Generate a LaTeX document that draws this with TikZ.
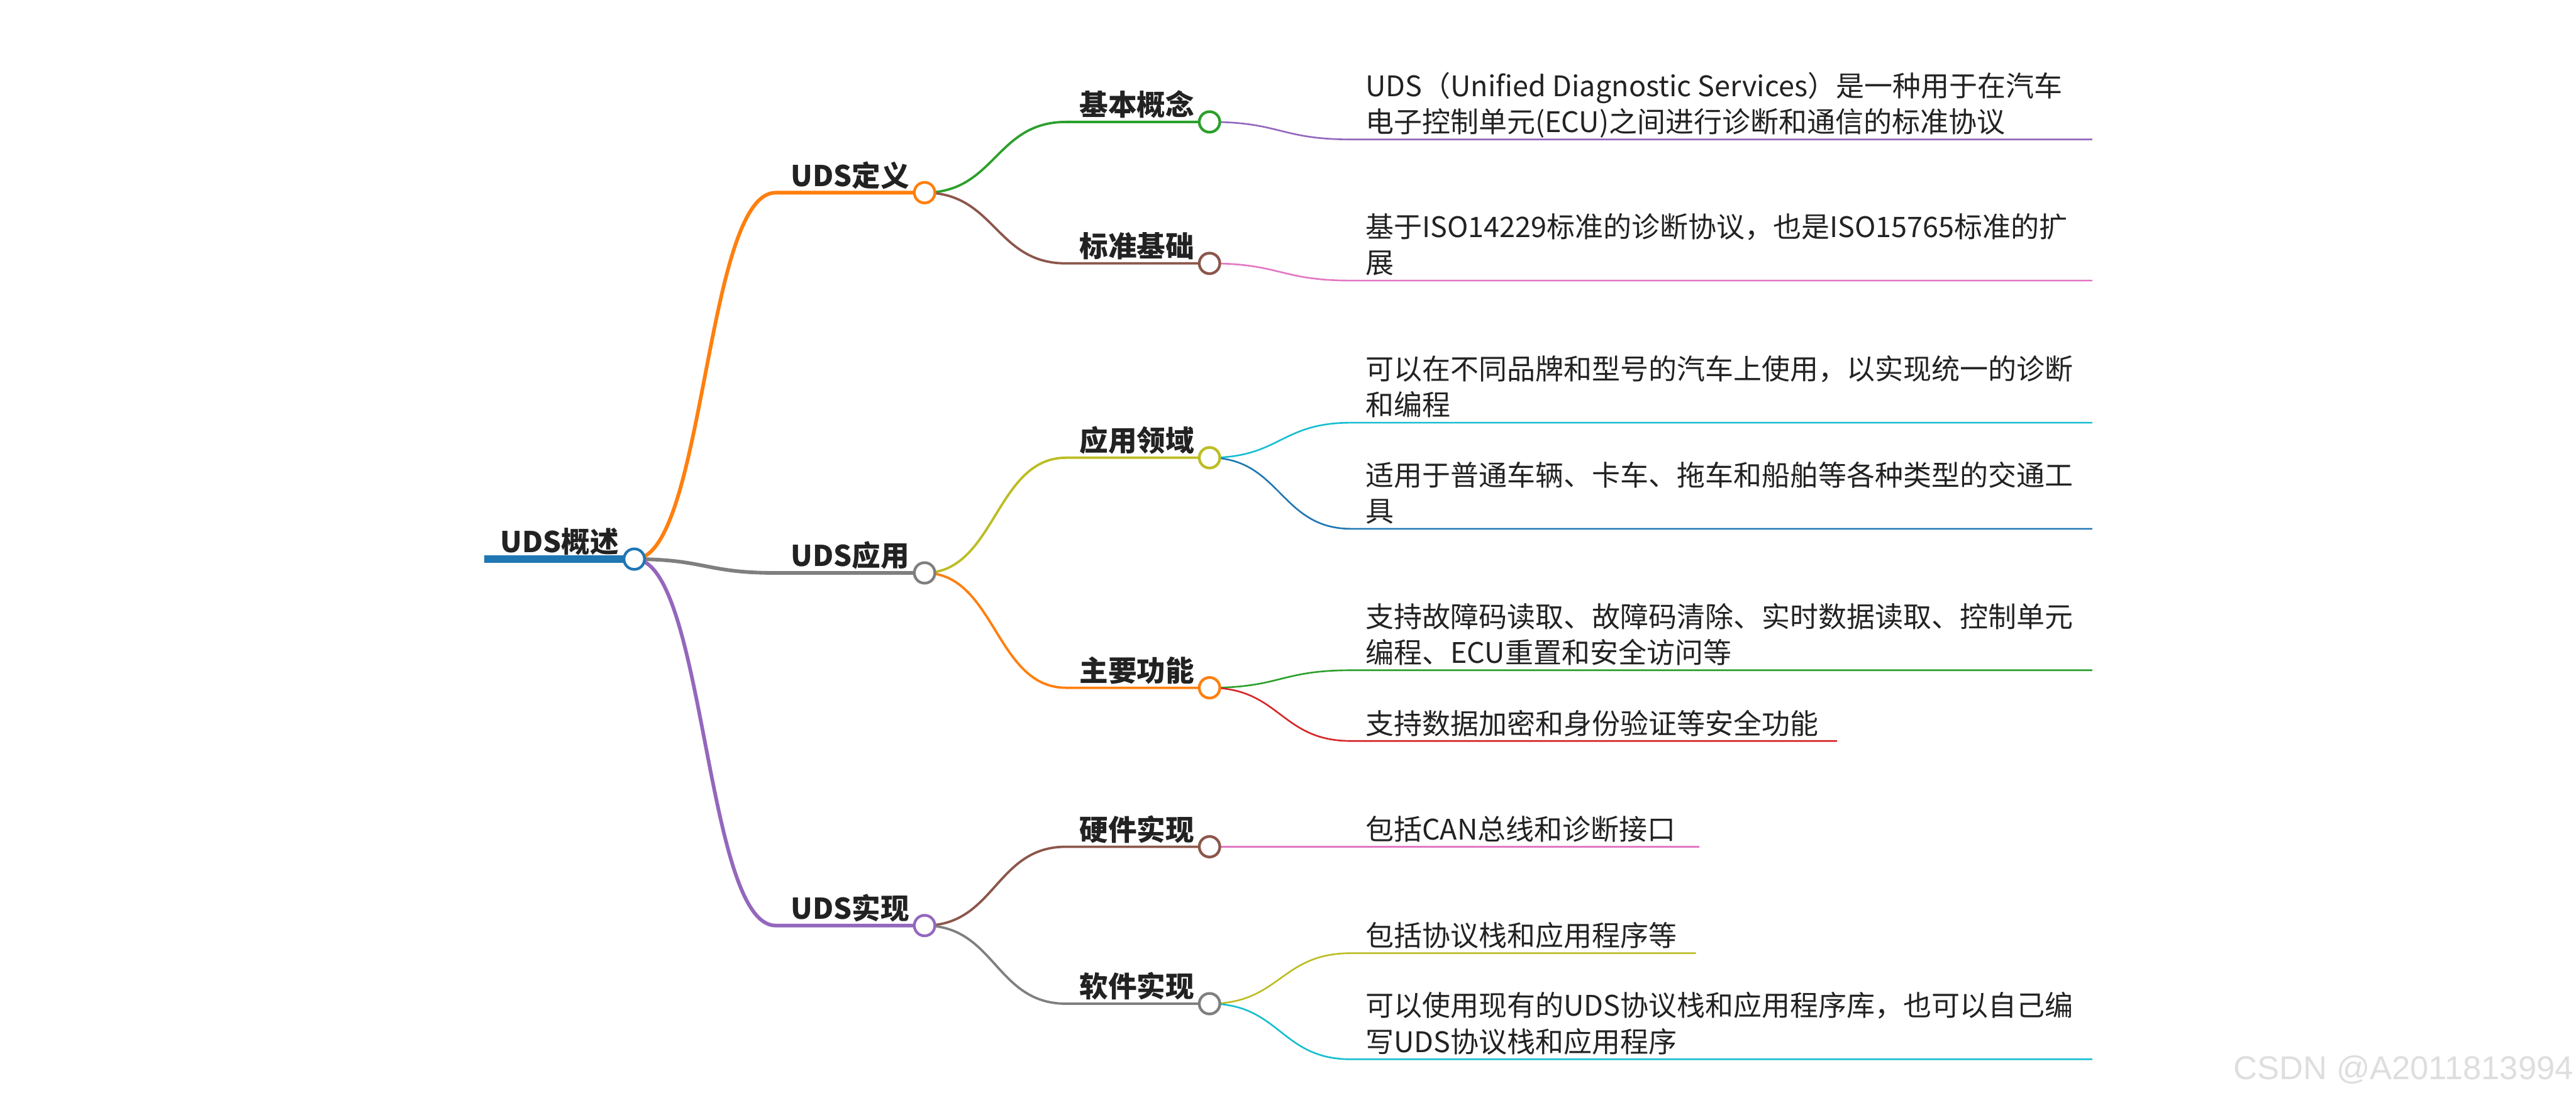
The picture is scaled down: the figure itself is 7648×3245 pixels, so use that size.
\documentclass[tikz,border=0pt]{standalone}
\usepackage{fontspec}
\setmainfont{Noto Sans CJK SC}
\newfontfamily\wmfont{Liberation Sans}
\usetikzlibrary{backgrounds}
\definecolor{tabblue}{HTML}{1F77B4}
\definecolor{taborange}{HTML}{FF7F0E}
\definecolor{tabgreen}{HTML}{2CA02C}
\definecolor{tabred}{HTML}{D62728}
\definecolor{tabpurple}{HTML}{9467BD}
\definecolor{tabbrown}{HTML}{8C564B}
\definecolor{tabpink}{HTML}{E377C2}
\definecolor{tabgray}{HTML}{7F7F7F}
\definecolor{tabolive}{HTML}{BCBD22}
\definecolor{tabcyan}{HTML}{17BECF}
\definecolor{ink}{HTML}{222222}

\begin{document}
\begin{tikzpicture}[
x=0.01cm,y=-0.01cm,
dot/.style={circle,draw=#1,fill=white,line width=2.3pt,minimum size=0.61cm,inner sep=0pt},
topic/.style={font=\bfseries\fontsize{24.2pt}{29pt}\selectfont,text=ink,inner sep=0pt,anchor=base east},
leaf/.style={font=\fontsize{23.9pt}{30.4pt}\selectfont,text=ink,inner sep=0pt,align=left,anchor=base west},
bigline/.style={line width=3.1pt},
midline/.style={line width=2pt},
thinline/.style={line width=1.4pt}
]
\useasboundingbox (0,0) rectangle (7648,3245);

% root and first level
\node[dot=tabblue] (root) at (1883,1660) {};
\node[topic] at ([shift={(-45,-19)}]root.center) {UDS概述};
\coordinate (root-l) at (1437,1660);
\node[dot=taborange] (def) at (2745,572) {};
\node[topic] at ([shift={(-45,-19)}]def.center) {UDS定义};
\node[dot=tabgray] (app) at (2745,1701) {};
\node[topic] at ([shift={(-45,-19)}]app.center) {UDS应用};
\node[dot=tabpurple] (impl) at (2745,2748) {};
\node[topic] at ([shift={(-45,-19)}]impl.center) {UDS实现};
\coordinate (def-in) at (2303,572);
\coordinate (app-in) at (2303,1701);
\coordinate (impl-in) at (2303,2748);

% second level
\node[dot=tabgreen] (concept) at (3591,362) {};
\node[topic] at ([shift={(-45,-19)}]concept.center) {基本概念};
\node[dot=tabbrown] (std) at (3591,782) {};
\node[topic] at ([shift={(-45,-19)}]std.center) {标准基础};
\node[dot=tabolive] (field) at (3591,1359) {};
\node[topic] at ([shift={(-45,-19)}]field.center) {应用领域};
\node[dot=taborange] (func) at (3591,2042) {};
\node[topic] at ([shift={(-45,-19)}]func.center) {主要功能};
\node[dot=tabbrown] (hw) at (3591,2514) {};
\node[topic] at ([shift={(-45,-19)}]hw.center) {硬件实现};
\node[dot=tabgray] (sw) at (3591,2980) {};
\node[topic] at ([shift={(-45,-19)}]sw.center) {软件实现};
\coordinate (concept-in) at (3165,362);
\coordinate (std-in) at (3165,782);
\coordinate (field-in) at (3165,1359);
\coordinate (func-in) at (3165,2042);
\coordinate (hw-in) at (3165,2514);
\coordinate (sw-in) at (3165,2980);

% leaves (base = last line)
\node[leaf] (d1) at (4053,393) {UDS（Unified Diagnostic Services）是一种用于在汽车\\电子控制单元(ECU)之间进行诊断和通信的标准协议};
\node[leaf] (d2) at (4053,812) {基于ISO14229标准的诊断协议，也是ISO15765标准的扩\\展};
\node[leaf] (d3) at (4053,1234) {可以在不同品牌和型号的汽车上使用，以实现统一的诊断\\和编程};
\node[leaf] (d4) at (4053,1549) {适用于普通车辆、卡车、拖车和船舶等各种类型的交通工\\具};
\node[leaf] (d5) at (4053,1969) {支持故障码读取、故障码清除、实时数据读取、控制单元\\编程、ECU重置和安全访问等};
\node[leaf] (d6) at (4053,2179) {支持数据加密和身份验证等安全功能};
\node[leaf] (d7) at (4053,2493) {包括CAN总线和诊断接口};
\node[leaf] (d8) at (4053,2809) {包括协议栈和应用程序等};
\node[leaf] (d9) at (4053,3124) {可以使用现有的UDS协议栈和应用程序库，也可以自己编\\写UDS协议栈和应用程序};
\coordinate (d1-s) at (4011,414);  \coordinate (d1-e) at (6212,414);
\coordinate (d2-s) at (4011,833);  \coordinate (d2-e) at (6212,833);
\coordinate (d3-s) at (4011,1255); \coordinate (d3-e) at (6212,1255);
\coordinate (d4-s) at (4011,1570); \coordinate (d4-e) at (6212,1570);
\coordinate (d5-s) at (4011,1990); \coordinate (d5-e) at (6212,1990);
\coordinate (d6-s) at (4011,2200); \coordinate (d6-e) at (5454,2200);
\coordinate (d7-s) at (4011,2514); \coordinate (d7-e) at (5045,2514);
\coordinate (d8-s) at (4011,2830); \coordinate (d8-e) at (5035,2830);
\coordinate (d9-s) at (4011,3145); \coordinate (d9-e) at (6212,3145);

\node[font=\wmfont\fontsize{27.9pt}{30pt}\selectfont,text=black!13,inner sep=0pt,anchor=base east] (mark) at (7641,3205) {CSDN @A2011813994};

% connectors, under the circles
\begin{scope}[on background layer]
\draw[tabblue,line width=6pt] (root-l) -- (root.center);
\draw[taborange,bigline] (root.center) .. controls +(210,0) and +(-210,0) .. (def-in) -- (def.center);
\draw[tabgray,bigline] (root.center) .. controls +(210,0) and +(-210,0) .. (app-in) -- (app.center);
\draw[tabpurple,bigline] (root.center) .. controls +(210,0) and +(-210,0) .. (impl-in) -- (impl.center);
\draw[tabgreen,midline] (def.center) .. controls +(210,0) and +(-210,0) .. (concept-in) -- (concept.center);
\draw[tabbrown,midline] (def.center) .. controls +(210,0) and +(-210,0) .. (std-in) -- (std.center);
\draw[tabolive,midline] (app.center) .. controls +(210,0) and +(-210,0) .. (field-in) -- (field.center);
\draw[taborange,midline] (app.center) .. controls +(210,0) and +(-210,0) .. (func-in) -- (func.center);
\draw[tabbrown,midline] (impl.center) .. controls +(210,0) and +(-210,0) .. (hw-in) -- (hw.center);
\draw[tabgray,midline] (impl.center) .. controls +(210,0) and +(-210,0) .. (sw-in) -- (sw.center);
\draw[tabpurple,thinline] (concept.center) .. controls +(210,0) and +(-210,0) .. (d1-s) -- (d1-e);
\draw[tabpink,thinline] (std.center) .. controls +(210,0) and +(-210,0) .. (d2-s) -- (d2-e);
\draw[tabcyan,thinline] (field.center) .. controls +(210,0) and +(-210,0) .. (d3-s) -- (d3-e);
\draw[tabblue,thinline] (field.center) .. controls +(210,0) and +(-210,0) .. (d4-s) -- (d4-e);
\draw[tabgreen,thinline] (func.center) .. controls +(210,0) and +(-210,0) .. (d5-s) -- (d5-e);
\draw[tabred,thinline] (func.center) .. controls +(210,0) and +(-210,0) .. (d6-s) -- (d6-e);
\draw[tabpink,thinline] (hw.center) .. controls +(210,0) and +(-210,0) .. (d7-s) -- (d7-e);
\draw[tabolive,thinline] (sw.center) .. controls +(210,0) and +(-210,0) .. (d8-s) -- (d8-e);
\draw[tabcyan,thinline] (sw.center) .. controls +(210,0) and +(-210,0) .. (d9-s) -- (d9-e);
\end{scope}
\end{tikzpicture}
\end{document}
